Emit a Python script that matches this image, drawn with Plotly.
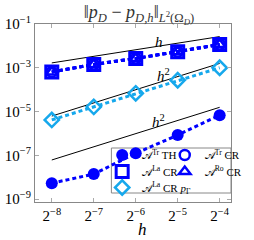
import plotly.graph_objects as go
import numpy as np

h_exp = [-8, -7, -6, -5, -4]
h_vals = [2.0 ** e for e in h_exp]

err_TH = [5.4e-9, 1.4e-8, 1.25e-7, 8.5e-7, 6.9e-6]
err_TrCR = [6.6e-4, 1.45e-3, 2.7e-3, 5.5e-3, 1.18e-2]
err_LaCR = [6.6e-4, 1.45e-3, 2.7e-3, 5.5e-3, 1.18e-2]
err_RoCR = [6.6e-4, 1.45e-3, 2.7e-3, 5.5e-3, 1.18e-2]
err_LaCRpG = [4.2e-6, 1.66e-5, 6.9e-5, 2.75e-4, 1.02e-3]

ref_h_coef = 0.435
ref_h2_upper_coef = 0.413
ref_h2_lower_coef = 4.06e-3

ytick_vals = [1e-1, 1e-3, 1e-5, 1e-7, 1e-9]
ytick_text = ["10<sup>−1</sup>", "10<sup>−3</sup>", "10<sup>−5</sup>", "10<sup>−7</sup>", "10<sup>−9</sup>"]
xtick_text = ["2<sup>−8</sup>", "2<sup>−7</sup>", "2<sup>−6</sup>", "2<sup>−5</sup>", "2<sup>−4</sup>"]

BLUE = "#0000FF"
CYAN = "#16A8EC"
FONT = "Liberation Serif"
A = "𝒜"

W, H = 254, 240
L, R, T, B = 35, 6, 24, 38
PW, PH = W - L - R, H - T - B


def px(xp):
    return (xp - L) / PW


def py(yp):
    return (H - B - yp) / PH


fig = go.Figure()
hv = np.array(h_vals)
for coef, p in [(ref_h_coef, 1), (ref_h2_upper_coef, 2), (ref_h2_lower_coef, 2)]:
    fig.add_trace(go.Scatter(x=h_vals, y=list(coef * hv ** p), mode="lines",
                             line=dict(color="black", width=1), showlegend=False, hoverinfo="skip"))

dash = "4px,3px"
series = [
    (err_TH, BLUE, dict(symbol="circle", size=12, color=BLUE), f"{A}<sup>Tr</sup> TH", "legend"),
    (err_TrCR, BLUE, dict(symbol="circle-open", size=10, color=BLUE, line=dict(width=2.5)), f"{A}<sup>Tr</sup> CR", "legend2"),
    (err_LaCR, BLUE, dict(symbol="square-open", size=12, color=BLUE, line=dict(width=3)), f"{A}<sup>La</sup> CR", "legend3"),
    (err_RoCR, BLUE, dict(symbol="triangle-up-open", size=10, color=BLUE, line=dict(width=2.5)), f"{A}<sup>Ro</sup> CR", "legend4"),
    (err_LaCRpG, CYAN, dict(symbol="diamond-open", size=11, color=CYAN, line=dict(width=2.5)), f"{A}<sup>La</sup> CR <i>p</i><sub>Γ</sub>", "legend5"),
]
for ys, col, mk, name, leg in series:
    fig.add_trace(go.Scatter(x=h_vals, y=ys, mode="lines", line=dict(color=col, width=3, dash=dash),
                             showlegend=False, hoverinfo="skip"))
for ys, col, mk, name, leg in series:
    fig.add_trace(go.Scatter(x=h_vals, y=ys, mode="markers", marker=mk, name=name, legend=leg))

lx = -5.45
fig.add_annotation(x=lx * np.log10(2), y=np.log10(ref_h_coef * 2.0 ** lx) + 0.2, text="<i>h</i>", showarrow=False,
                   font=dict(family=FONT, size=15, color="black"))
fig.add_annotation(x=(lx + 0.1) * np.log10(2), y=np.log10(ref_h2_upper_coef * 2.0 ** (2 * (lx + 0.1))) + 0.3, text="<i>h</i><sup>2</sup>", showarrow=False,
                   font=dict(family=FONT, size=15, color="black"))
fig.add_annotation(x=lx * np.log10(2), y=np.log10(ref_h2_lower_coef * 2.0 ** (2 * lx)) + 0.24, text="<i>h</i><sup>2</sup>", showarrow=False,
                   font=dict(family=FONT, size=15, color="black"))
# x-axis title
fig.add_annotation(xref="paper", yref="paper", x=px(152), y=py(229), text="<i>h</i>", showarrow=False,
                   xanchor="center", yanchor="middle", font=dict(family=FONT, size=17, color="black"))

fig.add_shape(type="rect", xref="paper", yref="paper", x0=px(118), x1=px(248), y0=py(193), y1=py(148),
              line=dict(color="#888", width=1), fillcolor="white", layer="below")

axis_common = dict(showline=True, linecolor="#888", linewidth=1, mirror="ticks", ticks="inside",
                   ticklen=4, tickcolor="#aaa", showgrid=False, zeroline=False,
                   tickfont=dict(family=FONT, size=15, color="black"))
fig.update_xaxes(type="log", range=[-8.40 * np.log10(2), -3.73 * np.log10(2)],
                 tickvals=h_vals, ticktext=xtick_text, **axis_common)
fig.update_yaxes(type="log", range=[-9.13, -0.99], tickvals=ytick_vals, ticktext=ytick_text, **axis_common)

leg_common = dict(orientation="v", bgcolor="rgba(0,0,0,0)", borderwidth=0,
                  font=dict(family=FONT, size=11, color="black"), itemwidth=30,
                  yanchor="middle", xanchor="left")
row_y = [155, 171.5, 187.5]
col_x = [108, 176]
fig.update_layout(
    width=W, height=H,
    margin=dict(l=L, r=R, t=T, b=B),
    paper_bgcolor="white", plot_bgcolor="white",
    title=dict(text="‖<i>p</i><sub><i>D</i></sub> − <i>p</i><sub><i>D,h</i></sub>‖<sub><i>L</i><sup>2</sup>(Ω<sub><i>D</i></sub>)</sub>",
               x=139 / W, xanchor="center", y=1 - 12 / H, yanchor="middle",
               font=dict(family=FONT, size=18, color="#333")),
    legend=dict(x=px(col_x[0]), y=py(row_y[0]), **leg_common),
    legend2=dict(x=px(col_x[1]), y=py(row_y[0]), **leg_common),
    legend3=dict(x=px(col_x[0]), y=py(row_y[1]), **leg_common),
    legend4=dict(x=px(col_x[1]), y=py(row_y[1]), **leg_common),
    legend5=dict(x=px(col_x[0]), y=py(row_y[2]), **leg_common),
    showlegend=True,
)

fig.write_html("out.html", config={"displayModeBar": False},
               post_script="document.body.style.margin='0';")
